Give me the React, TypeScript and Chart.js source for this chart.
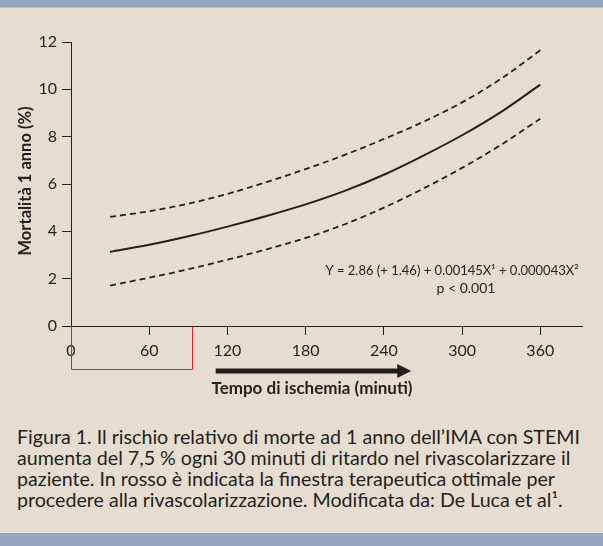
import React, { useEffect, useLayoutEffect, useRef } from 'react';
import { Chart, registerables } from 'chart.js';

Chart.register(...registerables);

// ---- data ----
const minutes = [30, 60, 90, 120, 150, 180, 210, 240, 270, 300, 330, 360];
const mortalityMean = [3.13, 3.43, 3.79, 4.2, 4.65, 5.14, 5.71, 6.39, 7.19, 8.06, 9.05, 10.2];
const upperBound = [4.61, 4.85, 5.17, 5.58, 6.08, 6.63, 7.23, 7.9, 8.62, 9.45, 10.45, 11.65];
const lowerBound = [1.71, 2.04, 2.4, 2.8, 3.24, 3.72, 4.3, 5.0, 5.8, 6.68, 7.66, 8.76];
const xTickValues = [0, 60, 120, 180, 240, 300, 360];
const yTickValues = [0, 2, 4, 6, 8, 10, 12];
const redWindowEnd = 93; // minutes
const arrowFrom = 111; // minutes
const arrowTo = 261; // minutes

const xTitle = 'Tempo di ischemia (minuti)';
const yTitle = 'Mortalità 1 anno (%)';
const equation = 'Y = 2.86 (+ 1.46) + 0.00145X¹ + 0.000043X²';
const pValue = 'p < 0.001';
const captionLines = [
  'Figura 1. Il rischio relativo di morte ad 1 anno dell’IMA con STEMI',
  'aumenta del 7,5 % ogni 30 minuti di ritardo nel rivascolarizzare il',
  'paziente. In rosso è indicata la finestra terapeutica ottimale per',
  'procedere alla rivascolarizzazione. Modificata da: De Luca et al¹.',
];

const FONT = 'Lato, "Noto Sans", sans-serif';
const INK = '#231f20';
const BG = '#e6ddd0';
const BAND = '#94a5c0';
const RED = '#d3242b';
const CANVAS_H = 410;

const toPoints = (vals: number[]) => minutes.map((m, i) => ({ x: m, y: vals[i] }));

export default function App() {
  const canvasRef = useRef<HTMLCanvasElement>(null);
  const captionRef = useRef<HTMLDivElement>(null);

  useEffect(() => {
    const canvas = canvasRef.current!;
    const decor = {
      id: 'decor',
      afterDraw(chart: any) {
        const { ctx, scales } = chart;
        const x = scales.x;
        const y = scales.y;
        ctx.save();
        // red therapeutic window
        const x0 = Math.round(x.getPixelForValue(0)) + 0.5;
        const x1 = Math.round(x.getPixelForValue(redWindowEnd)) + 0.5;
        const yTop = Math.round(y.getPixelForValue(0)) + 0.5;
        const yBot = 369.5;
        ctx.strokeStyle = RED;
        ctx.lineWidth = 1;
        ctx.beginPath();
        ctx.moveTo(x0, yTop);
        ctx.lineTo(x0, yBot);
        ctx.lineTo(x1, yBot);
        ctx.lineTo(x1, yTop);
        ctx.stroke();

        // arrow
        const ax0 = x.getPixelForValue(arrowFrom);
        const ax1 = x.getPixelForValue(arrowTo);
        const ay = 371;
        ctx.fillStyle = INK;
        ctx.fillRect(ax0, ay - 2.5, ax1 - ax0 - 12, 5);
        ctx.beginPath();
        ctx.moveTo(ax1 - 14, ay - 7);
        ctx.lineTo(ax1, ay);
        ctx.lineTo(ax1 - 14, ay + 7);
        ctx.closePath();
        ctx.fill();

        // x title
        ctx.fillStyle = INK;
        ctx.textAlign = 'center';
        ctx.textBaseline = 'middle';
        ctx.font = `bold 17px ${FONT}`;
        ctx.fillText(xTitle, 312, 389, 211);

        // equation
        ctx.font = `14px ${FONT}`;
        ctx.fillText(equation, 452, 270, 253);
        ctx.fillText(pValue, 466, 288);

        // y title
        ctx.save();
        ctx.translate(26, 181);
        ctx.rotate(-Math.PI / 2);
        ctx.font = `bold 16.5px ${FONT}`;
        ctx.fillText(yTitle, 0, 0, 150);
        ctx.restore();

        ctx.restore();
      },
    };

    const lineCommon = {
      borderColor: INK,
      borderWidth: 1.8,
      pointRadius: 0,
      cubicInterpolationMode: 'monotone',
      fill: false,
    };

    const chart = new Chart(canvas, {
      type: 'line',
      data: {
        datasets: [
          { ...lineCommon, data: toPoints(upperBound), borderDash: [6, 4] },
          { ...lineCommon, data: toPoints(mortalityMean), borderWidth: 2 },
          { ...lineCommon, data: toPoints(lowerBound), borderDash: [6, 4] },
        ],
      },
      options: {
        animation: false,
        responsive: false,
        devicePixelRatio: 1,
        layout: { padding: { top: 42, right: 21, left: 0, bottom: 0 } },
        plugins: { legend: { display: false }, tooltip: { enabled: false } },
        scales: {
          x: {
            type: 'linear',
            min: 0,
            max: 392,
            afterFit: (s: any) => {
              s.height = CANVAS_H - 326;
            },
            afterBuildTicks: (s: any) => {
              s.ticks = xTickValues.map((v) => ({ value: v }));
            },
            border: { display: true, color: INK, width: 1 },
            grid: { drawOnChartArea: false, drawTicks: true, tickLength: 9, color: INK },
            ticks: {
              color: INK,
              padding: 6,
              maxRotation: 0,
              autoSkip: false,
              font: { family: FONT, size: 16 },
            },
          },
          y: {
            type: 'linear',
            min: 0,
            max: 12,
            afterFit: (s: any) => {
              s.width = 71;
            },
            afterBuildTicks: (s: any) => {
              s.ticks = yTickValues.map((v) => ({ value: v }));
            },
            border: { display: true, color: INK, width: 1 },
            grid: { drawOnChartArea: false, drawTicks: true, tickLength: 9, color: INK },
            ticks: {
              color: INK,
              padding: 5,
              font: { family: FONT, size: 16 },
            },
          },
        },
      },
      plugins: [decor],
    } as any);
    return () => chart.destroy();
  }, []);

  useLayoutEffect(() => {
    const fit = () => {
      const el = captionRef.current;
      if (!el) return;
      const first = el.querySelector('.ln') as HTMLElement | null;
      if (!first) return;
      el.style.transform = 'none';
      const w = first.getBoundingClientRect().width;
      if (w > 0) el.style.transform = `scaleX(${563 / w})`;
    };
    fit();
    if ((document as any).fonts?.ready) (document as any).fonts.ready.then(fit);
  }, []);

  return (
    <div
      style={{
        position: 'absolute',
        left: 0,
        top: 0,
        width: 603,
        height: 546,
        background: BG,
        overflow: 'hidden',
      }}
    >
      <div style={{ position: 'absolute', left: 0, top: 0, width: 603, height: 7, background: BAND }} />
      <div style={{ position: 'absolute', left: 0, top: 7, width: 603, height: 1, background: '#b4bccb' }} />
      <canvas
        ref={canvasRef}
        width={603}
        height={CANVAS_H}
        style={{ position: 'absolute', left: 0, top: 0, width: 603, height: CANVAS_H }}
      />
      <div
        ref={captionRef}
        style={{
          position: 'absolute',
          left: 17,
          top: 426,
          fontFamily: FONT,
          fontSize: 19,
          lineHeight: '21px',
          color: INK,
          transformOrigin: 'left top',
          whiteSpace: 'nowrap',
        }}
      >
        {captionLines.map((t, i) => (
          <div key={i}>
            <span className="ln" style={{ display: 'inline-block' }}>
              {t}
            </span>
          </div>
        ))}
      </div>
      <div style={{ position: 'absolute', left: 0, top: 533, width: 603, height: 13, background: BAND }} />
    </div>
  );
}
